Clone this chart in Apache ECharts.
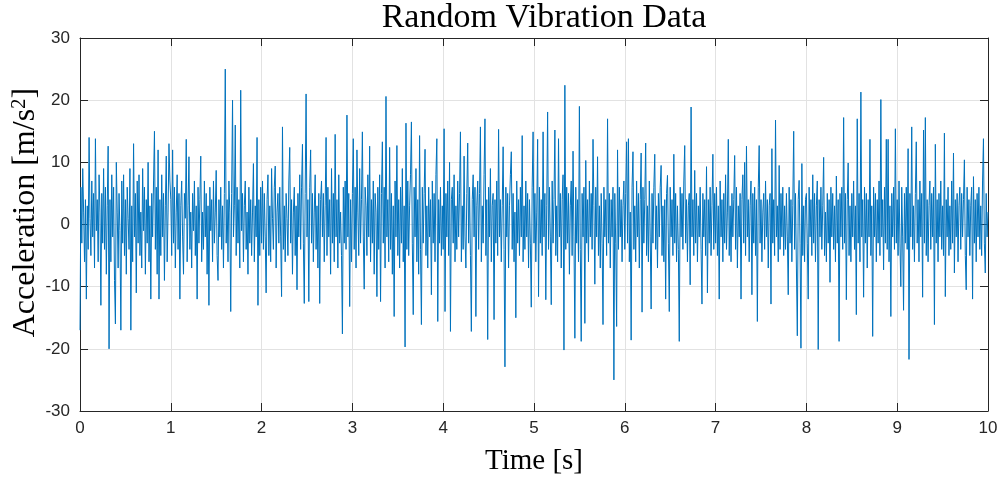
<!DOCTYPE html>
<html>
<head>
<meta charset="utf-8">
<script src="https://cdn.jsdelivr.net/npm/echarts@6/dist/echarts.min.js"></script>
<style>
  html, body { margin: 0; padding: 0; background: #fff; }
  #chart { width: 1002px; height: 482px; }
</style>
</head>
<body>
<div id="chart"></div>
<script>
// sample rate of the record (samples per second), 10 s long
const sampleRate = 100;
const xTicks = [0, 1, 2, 3, 4, 5, 6, 7, 8, 9, 10];
const yTicks = [-30, -20, -10, 0, 10, 20, 30];

// acceleration readings [m/s^2], one array per second of record
const sec0 = [-17,6,-3,9,2,-6,4,-12,3,-4, 14,1,-5,7,-2,5,-7,13.8,-1,4, -6,8,2,-13,5,-3,9,-4,6,-8, 3,12.6,-20,4,-6,8,-2,6,-9,-16, 10,2,-7,5,-1,-17,7,-3,8,-5, 4,-8,6,1,-4,9,-17,3,-6,13, -2,5,-11,7,-3,8,-5,2,-7,9, -1,6,-8,4,-3,10,-6,3,-12,5, -2,7,15,-4,6,-8,12,-12,4,-5, 8,-2,5,-9,3,11,-6,2,13,7];
const sec1 = [4,-5,12,-3,6,-7,2,8,-4,5, -12,3,7,-2,-8,5,1,13.7,-6,3, 10.9,-4,2,-7,5,-1,7,-5,3,-12, 6,-3,4,11,-6,2,-4,7,-2,5, -8,3,-13,6,-1,4,-6,7,-3,2, 8.7,-5,-9,4,-2,6,-4,3,-7,5, 25,-3,4,-6,7,2,-14,5,20,-2, 3,16,-5,6,-3,4,-7,21.6,-1,5, -6,3,7,-4,2,-8,6,-3,4,-5, 2,9.8,-6,3,-2,14,-13,4,-5,6];
const sec2 = [-3,7,-4,5,-2,-11,4,8,-5,3, -6,9,1,-4,6,9.4,-7,2,5,-3, 6,-2,-11.6,15.7,-4,3,-6,5,1,-5, 7,12.4,-3,4,-8,2,6,-5,3,-10.5, 5,-2,8,-4,6,12.9,-3,-12.7,5,21, -2,4,-12.4,6,12,-3,5,-6,2,8, -4,3,-7,5,-12.7,4,7,-2,5,-6, 3,14,-5,6,-2,4,-8,9,-3,5, -6,14.5,-2,4,-7,8,-3,2,-5,-17.6, 6,-3,7,-4,17.6,-2,5,-13.2,4,-6];
const sec3 = [5,13.8,-4,6,-7,12,2,-5,9,-3, 4,14.9,-2,-10.4,6,3,-5,8,-2,12.6, -6,4,-3,7,-8,5,2,-11.6,6,-4, 8,-12.4,5,13.3,-3,6,-7,20.6,-2,4, -6,12.4,-4,5,-8,3,-14.8,7,-2,12.7, -5,4,-7,6,-3,9,-6,3,-19.7,16.3, -4,7,-5,3,8,16.5,-3,-14.5,6,-2, 9,-6,4,-8,14.3,-4,-16.1,6,-3,5, 12.1,-5,3,-7,6,-2,4,-11.3,7,-3, 5,-6,8,13.8,-15.6,4,-3,6,-5,3];
const sec4 = [-4,15.4,-14,5,-2,7,-5,10,-17.2,4, 6,-3,8,-6,3,-4,7,-2,5,14.9, -6,3,-4,11,-2,-7,5,13.1,-3,6, -5,-17.2,4,8,-2,6,-14.8,3,7,-4, 5,15.7,-6,3,-3,8,17,-5,4,-18.5, 6,-2,9,-6,3,5,-15.3,4,-3,7, -5,15.3,-2,4,-6,3,12.5,-4,-22.9,6, -2,5,-7,3,8,11.7,-4,5,-6,2, -15,7,-3,4,-5,6,-2,14.3,-6,3, -4,7,-2,5,-7,4,-3,-13.3,6,14.9];
const sec5 = [-3,5,-6,2,13.7,-11.6,6,-3,4,-5, 14.9,-2,5,-12.1,3,18.1,-4,6,-2,-12.9, 7,-3,4,15.2,-5,3,-6,13.8,-2,5, -7,4,8,-20.2,22.4,-4,6,-3,5,-8, 3,7,-5,11.8,-2,-18.3,6,-3,4,-6, 19,-4,-18.8,5,-2,6,-15.9,10.3,-3,4, -6,7,-2,5,-4,13.7,3,-9.6,6,-2, 10.9,-5,3,-7,5,-3,-16.1,6,-2,4, -5,17,-3,5,-7,4,-2,6,-25,5, -3,-16.4,12,-4,6,-2,4,-6,3,7];
const sec6 = [-4,5,13.3,-3,13.8,-6,2,-18.6,6,11.7, -4,3,-6,7,-2,5,-7,4,11.5,-14.1, 6,-3,4,13.1,-5,3,-6,7,-2,-13.6, 5,-3,6,11.3,-4,3,-7,5,-2,6, 9.5,-5,3,-6,4,-12,5,7.9,-3,-14, 6,-2,4,-5,11.3,-3,5,-6,3,-4, -18.8,6,-2,5,-4,7,12.7,-3,4,-6, 3,5,-9.7,18.9,-2,4,-5,8.7,-3,5, -6,3,-2,6,-4,-12.8,5,-2,4,-5, 9.3,-11,4,-3,6,-5,3,11.3,-4,5];
const sec7 = [-3,6,-5,3,-12,7,-2,4,-6,5, -3,8,-4,2,13.7,-5,3,-6,5,-2, 4,11.1,-4,6,-7,3,-2,5,-12,4, 8,-3,10,-5,12.6,-2,4,-6,3,7, -11.3,5,-3,6,-5,4,-15.6,6,12.7,-3, 4,-6,2,5,-4,7,-2,4,-7,3, 5,-12.8,12.2,-3,4,-5,16.8,-2,3,-6, 9.5,-4,5,-2,6,-5,3,-4,5,-2, -11.3,6,-3,4,-6,3,15,-4,5,-7, -17.9,4,7.1,-3,-19.9,9.8,-5,3,-6,4];
const sec8 = [5,-3,-12,6,-2,4,-5,8,-3,5, -6,3,7,-20.1,4,-2,6,-4,3,10.8, -5,2,-6,5,-3,4,-9.3,6,-2,5, -4,3,-6,7.8,-3,4,-18.8,5,-2,6, -4,17.2,-3,5,-12.1,4,9.9,-5,3,-6, 5,-2,7,-4,3,-14.5,17,-3,5,-6, 21.3,-2,4,-11.7,6,-3,5,-7,4,-2, 13.7,-5,3,-18,6,-2,5,-6,4,-3, 7,-5,20.1,-2,4,-7.3,6,-3,13.7,-4, 13.7,-6,3,-14.8,5,-2,6,-4,15.4,-3];
const sec9 = [4,-5,7,-3,-10,6,-2,-13.8,5,-3, 6,-4,12.2,-21.7,5,-2,15.7,-4,3,-6, 5,13.3,-3,4,-6,7,-2,5,-11.7,15.2, -3,17.2,-5,4,-6,3,7,-4,5,-2, 6,-16.1,12.9,-3,4,-6,5,-2,7,-4, 3,-5,14.7,-11.6,4,-2,6,-5,3,-4, 7,-3,11.5,-7.8,4,-2,5,-6,3,6, -4,5,-2,4,10.4,-5,-10.5,6,-2,4, -5,3,6,-12,7.7,-3,4,-6,5,-2, 6,-4,3,-5,7,13.8,-3,-7.8,5,-2];
const lastValue = [2];

const accel = [].concat(sec0, sec1, sec2, sec3, sec4, sec5, sec6, sec7, sec8, sec9, lastValue);
const points = accel.map((v, i) => [i / sampleRate, v]);

const axisColor = '#262626';
const gridColor = '#e2e2e2';
const tickFont = {color: axisColor, fontFamily: 'Liberation Sans', fontSize: 17};

function frameAxis(position, min, max, interval) {
  return {
    type: 'value', position: position, min: min, max: max, interval: interval,
    axisLine: {show: true, onZero: false, lineStyle: {color: axisColor, width: 1}},
    axisTick: {show: true, inside: true, length: 8, lineStyle: {color: axisColor}},
    axisLabel: {show: false},
    splitLine: {show: false}
  };
}

const option = {
  animation: false,
  backgroundColor: '#fff',
  title: {
    text: 'Random Vibration Data',
    left: 539, top: -4, textAlign: 'center',
    textStyle: {fontFamily: 'Liberation Serif', fontWeight: 'normal', fontSize: 34, color: '#000'}
  },
  grid: {left: 80, top: 38, width: 908, height: 373, containLabel: false, outerBoundsMode: 'none'},
  xAxis: [
    {
      type: 'value', min: xTicks[0], max: xTicks[xTicks.length - 1], interval: 1,
      name: 'Time [s]', nameLocation: 'middle', nameGap: 36, nameMoveOverlap: false,
      nameTextStyle: {fontFamily: 'Liberation Serif', fontSize: 29, color: '#000'},
      axisLine: {show: true, onZero: false, lineStyle: {color: axisColor, width: 1}},
      axisTick: {show: true, inside: true, length: 8, lineStyle: {color: axisColor}},
      axisLabel: Object.assign({margin: 9}, tickFont),
      splitLine: {show: true, lineStyle: {color: gridColor, width: 1}}
    },
    frameAxis('top', xTicks[0], xTicks[xTicks.length - 1], 1)
  ],
  yAxis: [
    {
      type: 'value', min: yTicks[0], max: yTicks[yTicks.length - 1], interval: 10,
      name: '{a|Acceleration [m/s}{s|2}{a|]}', nameLocation: 'middle', nameGap: 38, nameMoveOverlap: false,
      nameTextStyle: {
        color: '#000',
        padding: [0, 0, 0, 24],
        rich: {
          a: {fontFamily: 'Liberation Serif', fontSize: 32, color: '#000'},
          s: {fontFamily: 'Liberation Serif', fontSize: 21, color: '#000', verticalAlign: 'top', padding: [0, 0, 12, 0]}
        }
      },
      axisLine: {show: true, onZero: false, lineStyle: {color: axisColor, width: 1}},
      axisTick: {show: true, inside: true, length: 8, lineStyle: {color: axisColor}},
      axisLabel: Object.assign({margin: 10}, tickFont),
      splitLine: {show: true, lineStyle: {color: gridColor, width: 1}}
    },
    frameAxis('right', yTicks[0], yTicks[yTicks.length - 1], 10)
  ],
  series: [
    {
      name: 'Acceleration',
      type: 'line',
      xAxisIndex: 0, yAxisIndex: 0,
      data: points,
      showSymbol: false,
      sampling: null,
      lineStyle: {color: '#0072BD', width: 1},
      itemStyle: {color: '#0072BD'}
    }
  ]
};

const chart = echarts.init(document.getElementById('chart'));
chart.setOption(option);
</script>
</body>
</html>
